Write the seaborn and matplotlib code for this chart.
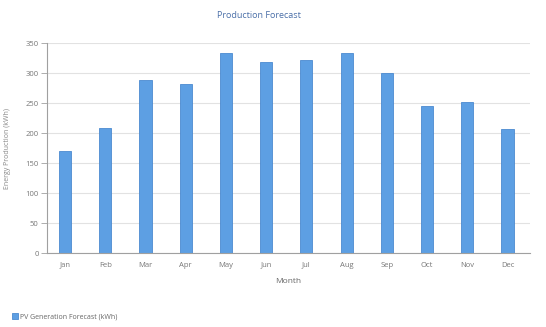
import matplotlib
matplotlib.use("Agg")
import matplotlib.pyplot as plt
import seaborn as sns
import pandas as pd

months = ["Jan", "Feb", "Mar", "Apr", "May", "Jun",
          "Jul", "Aug", "Sep", "Oct", "Nov", "Dec"]
production = [171, 208, 289, 282, 334, 319, 322, 334, 301, 245, 252, 207]
y_ticks = [0, 50, 100, 150, 200, 250, 300, 350]
series_name = "PV Generation Forecast (kWh)"

df = pd.DataFrame({"Month": months, "Production": production})

sns.set_theme(style="white")
plt.rcParams["font.family"] = ["Open Sans", "DejaVu Sans"]

fig = plt.figure(figsize=(5.46, 3.27), dpi=100)
ax = fig.add_axes([0.086, 0.2254, 0.884, 0.6422])

bar_color = "#5d9fe3"
sns.barplot(data=df, x="Month", y="Production", color=bar_color,
            saturation=1, width=0.3, ax=ax, edgecolor="#4b8ad0",
            linewidth=0.6, label=series_name)
if ax.get_legend() is not None:
    ax.get_legend().remove()

ax.set_ylim(0, 350)
ax.set_xlim(-0.45, 11.55)
ax.set_yticks(y_ticks)
ax.set_yticklabels([str(v) for v in y_ticks])
ax.yaxis.grid(True, color="#e2e2e2", linewidth=0.8)
ax.set_axisbelow(True)

for side in ["top", "right"]:
    ax.spines[side].set_visible(False)
for side in ["left", "bottom"]:
    ax.spines[side].set_color("#a0a0a0")
    ax.spines[side].set_linewidth(0.8)

ax.tick_params(axis="y", length=4, width=0.6, color="#a0a0a0",
               labelsize=5.5, labelcolor="#777777", pad=2, left=True)
ax.tick_params(axis="x", length=0, labelsize=5.5, labelcolor="#777777", pad=6)

ax.set_xlabel("Month", fontsize=6, color="#666666", labelpad=7)
ax.set_ylabel("Energy Production (kWh)", fontsize=5, color="#888888", labelpad=10)

fig.text(0.475, 0.952, "Production Forecast", ha="center", va="center",
         fontsize=6.5, color="#4a6fa8")

handles, labels = ax.get_legend_handles_labels()
fig.legend(handles, labels, loc="lower left", bbox_to_anchor=(0.01, 0.0),
           frameon=False, fontsize=5, handlelength=0.9, handleheight=0.9,
           labelcolor="#666666", handletextpad=0.3)

fig.savefig("out.png", dpi=100, facecolor="white")
